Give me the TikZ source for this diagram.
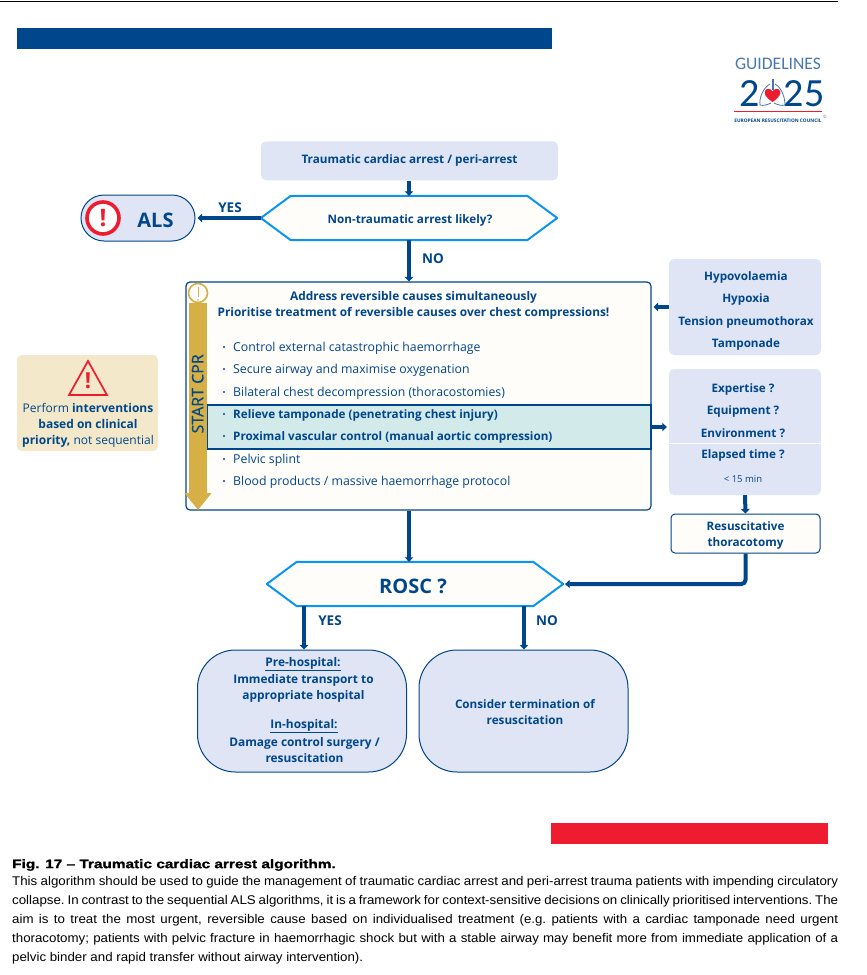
\documentclass[tikz,border=0pt]{standalone}
\usepackage{fontspec}
\setmainfont{Open Sans}
\newfontfamily\capfont[FakeStretch=1.055]{Liberation Sans}
\newfontfamily\capbold[FakeStretch=1.25,FakeBold=1.2]{Liberation Sans}
\newfontfamily\logofont{Carlito}
\newfontfamily\cprfont[FakeBold=0.5]{Open Sans}
\usetikzlibrary{arrows.meta,calc}
\definecolor{ercblue}{HTML}{00468C}
\definecolor{lightbox}{HTML}{DFE5F4}
\definecolor{cyanedge}{HTML}{0A96F0}
\definecolor{offwhite}{HTML}{FFFDF9}
\definecolor{tealband}{HTML}{D2EAEA}
\definecolor{goldarrow}{HTML}{D7B045}
\definecolor{beige}{HTML}{F3E8C9}
\definecolor{ercred}{HTML}{EE1C2E}
\definecolor{logoblue}{HTML}{4A78AE}
\tikzset{
  arr/.style={draw=ercblue,line width=4pt,-{Triangle[width=8.5pt,length=4.5pt]}},
  txt/.style={inner sep=0pt,text=ercblue,font=\fontsize{12.3}{16}\selectfont,align=center,yshift=-1.3pt},
  btxt/.style={txt,font=\fontsize{11.7}{16}\selectfont\bfseries},
  bwide/.style={txt,font=\fontsize{11.9}{16}\selectfont\bfseries},
  lbl/.style={inner sep=0pt,text=ercblue,font=\fontsize{13.5}{16}\selectfont\bfseries,yshift=-1pt},
  bigt/.style={lbl,font=\fontsize{20}{22}\selectfont\bfseries},
  item/.style={txt,anchor=west},
  bul/.style={circle,fill=ercblue,inner sep=0pt,minimum size=2.4pt},
  lightrect/.style={fill=lightbox,rounded corners=5pt,inner sep=0pt},
  hexframe/.style={inner sep=0pt,minimum width=296pt,minimum height=44pt},
  hexline/.style={draw=cyanedge,line width=2pt,fill=offwhite,line join=round},
  endbox/.style={fill=lightbox,draw=ercblue,line width=1pt,rounded corners=38pt,minimum width=209pt,minimum height=122pt,inner sep=0pt},
}
\newcommand{\hexpath}[1]{%
  \path[hexline] (#1.west) -- ([xshift=30pt]#1.north west) -- ([xshift=-30pt]#1.north east) -- (#1.east) -- ([xshift=-30pt]#1.south east) -- ([xshift=30pt]#1.south west) -- cycle;}
\begin{document}
\begin{tikzpicture}[x=1pt,y=-1pt]
\useasboundingbox (0,0) rectangle (867,975);
\fill[white] (0,0) rectangle (867,975);
% page furniture
\draw[black,line width=0.8pt] (0,1) -- (838,1);
\fill[ercblue] (17,28) rectangle (552,49);
\fill[ercred] (551,823) rectangle (828,844);
% logo
\node[inner sep=0pt,text=logoblue,font=\logofont\fontsize{17.6}{20}\selectfont] (logoa) at (778,64) {GUIDELINES};
\node[inner sep=0pt,text=ercblue,font=\logofont\fontsize{40}{40}\selectfont] (logob) at (750,94) {2};
\node[inner sep=0pt,text=ercblue,font=\logofont\fontsize{40}{40}\selectfont] (logoc) at (804,94) {25};
\draw[logoblue,line width=0.6pt] (771.8,79) -- (771.8,90) (773.2,79) -- (773.2,90);
\draw[logoblue,line width=0.8pt] (770,84) .. controls (763,88) and (759,98) .. (760,105) .. controls (763,106) and (767,105) .. (771,103);
\draw[logoblue,line width=0.8pt] (775,84) .. controls (782,88) and (785,98) .. (785,105) .. controls (782,106) and (778,105) .. (774,103);
\fill[ercred] (772.5,102) .. controls (765,97) and (764,93.5) .. (765,91) .. controls (766,88) and (771,88) .. (772.5,91.5) .. controls (774,88) and (779,88) .. (780,91) .. controls (781,93.5) and (780,97) .. (772.5,102) -- cycle;
\draw[ercred,line width=1pt] (734,111) -- (822,111);
\node[inner sep=0pt,text=ercblue,font=\fontsize{4.8}{6}\selectfont\bfseries] (logod) at (778,121) {EUROPEAN RESUSCITATION COUNCIL};
\node[inner sep=0pt,text=logoblue,font=\fontsize{4.5}{6}\selectfont] (logoe) at (825,117) {©};
% start
\node[lightrect,minimum width=297pt,minimum height=39pt,btxt] (start) at (409.5,159.5) {Traumatic cardiac arrest / peri-arrest};
\node[hexframe] (hex) at (409,218) {};
\hexpath{hex}
\node[btxt] (hextxt) at (410,219) {Non-traumatic arrest likely?};
\draw[arr] (start.south -| hex.north) -- (hex.north);
% ALS
\node[fill=lightbox,draw=ercblue,line width=1pt,rounded corners=23pt,minimum width=114pt,minimum height=46pt,inner sep=0pt] (als) at (138,218) {};
\node[circle,draw=ercred,line width=3.6pt,fill=white,minimum size=32pt,inner sep=0pt,text=ercred,font=\fontsize{24}{24}\selectfont\bfseries] (alsicon) at (103,218) {!};
\node[bigt] (alstxt) at (155.5,219.5) {ALS};
\draw[arr,shorten >=2pt] (hex.west) -- (als.east);
\node[lbl] (yes1) at (230,207) {YES};
% main box
\node[draw=ercblue,line width=1.2pt,fill=offwhite,rounded corners=4pt,minimum width=465pt,minimum height=228pt,inner sep=0pt] (main) at (418.5,396) {};
\draw[arr] (hex.south) -- (main.north -| hex.south);
\node[lbl] (no1) at (433,258) {NO};
\node[bwide] (maina) at (413.5,296) {Address reversible causes simultaneously};
\node[bwide] (mainb) at (413.5,312) {Prioritise treatment of reversible causes over chest compressions!};
\node[draw=ercblue,line width=1.8pt,fill=tealband,minimum width=444pt,minimum height=44pt,inner sep=0pt] (band) at (429,427) {};
\foreach \n/\y/\t in {i1/347/{Control external catastrophic haemorrhage},i2/369/{Secure airway and maximise oxygenation},i3/392/{Bilateral chest decompression (thoracostomies)},i6/459/{Pelvic splint},i7/481/{Blood products / massive haemorrhage protocol}}{
  \node[item] (\n) at (233,\y) {\t};
  \node[bul] (b\n) at (224,\y) {};
}
\foreach \n/\y/\t in {i4/414/{Relieve tamponade (penetrating chest injury)},i5/436/{Proximal vascular control (manual aortic compression)}}{
  \node[item,font=\fontsize{11.7}{16}\selectfont\bfseries] (\n) at (233,\y) {\t};
  \node[bul] (b\n) at (224,\y) {};
}
% start CPR arrow
\node[circle,draw=goldarrow,line width=1.6pt,fill=offwhite,minimum size=19pt,inner sep=0pt] (cpr) at (198,293) {};
\coordinate (cprend) at (198,510);
\draw[goldarrow,line width=18pt,-{Triangle[width=26pt,length=17pt]}] (cpr.south) -- (cprend);
\draw[goldarrow,line width=1pt] (198,287) -- (198,297);
\fill[goldarrow] (198,300) circle (0.8pt);
\node[txt,rotate=90,font=\cprfont\fontsize{16}{16}\selectfont,yshift=1.3pt] (cprtxt) at (199,392.5) {START CPR};
% causes
\node[lightrect,minimum width=152pt,minimum height=96pt] (causes) at (745,307) {};
\foreach \n/\y/\t in {c1/276/Hypovolaemia,c2/298/Hypoxia,c3/321/Tension pneumothorax,c4/343/Tamponade}{
  \node[btxt] (\n) at (746,\y) {\t};
}
\draw[arr,shorten >=2pt] (causes.west) -- (main.east |- causes.west);
% questions
\node[lightrect,minimum width=152pt,minimum height=126pt] (quest) at (745,432) {};
\draw[white,line width=0.8pt] (quest.west |- 0,443) -- (quest.east |- 0,443);
\foreach \n/\y/\t in {q1/388/Expertise ?,q2/410/Equipment ?,q3/432/Environment ?,q4/454/Elapsed time ?}{
  \node[btxt] (\n) at (743,\y) {\t};
}
\node[txt,font=\fontsize{9.5}{12}\selectfont] (q5) at (743,478) {< 15 min};
\draw[arr,shorten >=2pt] (band.east) -- (quest.west |- band.east);
% thoracotomy
\node[draw=ercblue,line width=1pt,fill=offwhite,rounded corners=4pt,minimum width=149pt,minimum height=39pt,inner sep=0pt] (thor) at (745.5,533.5) {};
\node[btxt] (thortxt) at (745.5,534) {Resuscitative\\thoracotomy};
\draw[arr] (quest.south) -- (thor.north);
% ROSC
\node[hexframe] (rosc) at (415,584) {};
\hexpath{rosc}
\node[bigt] (rosctxt) at (413,585) {ROSC ?};
\draw[arr] (main.south -| 409,0) -- (rosc.north -| 409,0);
\draw[draw=ercblue,line width=4pt,rounded corners=4pt,-{Triangle[width=8.5pt,length=4.5pt]},shorten >=2pt] (thor.south) |- (rosc.east);
% outcomes
\node[endbox] (pre) at (302,711) {};
\node[endbox] (term) at (523.5,711) {};
\draw[arr] (rosc.south -| 304,0) -- (pre.north -| 304,0);
\draw[arr] (rosc.south -| 524,0) -- (term.north -| 524,0);
\node[lbl] (yes2) at (330,620) {YES};
\node[lbl] (no2) at (547,620) {NO};
\node[bwide] (p1) at (303,663) {\underline{Pre-hospital:}};
\node[bwide] (p2) at (303.5,687) {Immediate transport to\\appropriate hospital};
\node[bwide] (p3) at (304,725) {\underline{In-hospital:}};
\node[bwide] (p4) at (304.5,749) {Damage control surgery /\\resuscitation};
\node[btxt] (t1) at (525,711) {Consider termination of\\resuscitation};
% note
\node[fill=beige,rounded corners=5pt,minimum width=141pt,minimum height=96pt,inner sep=0pt] (note) at (87.5,403) {};
\draw[ercred,line width=1.7pt,line join=miter] (88,361) -- (107,395) -- (69,395) -- cycle;
\node[inner sep=0pt,text=ercred,font=\fontsize{22}{22}\selectfont\bfseries] (noteicon) at (88,381) {!};
\node[txt,font=\fontsize{12}{16.3}\selectfont] (notetxt) at (88,424) {Perform \textbf{interventions}\\\textbf{based on clinical}\\\textbf{priority,} not sequential};
% caption
\node[inner sep=0pt,anchor=west,font=\capbold\fontsize{12.3}{14}\selectfont\bfseries] (captitle) at (12,865) {Fig. 17 – Traumatic cardiac arrest algorithm.};
\node[inner sep=0pt,anchor=north west,align=left,font=\capfont\fontsize{12.6}{19}\selectfont\frenchspacing] (capbody) at (12,876) {%
\makebox[826pt][s]{This algorithm should be used to guide the management of traumatic cardiac arrest and peri-arrest trauma patients with impending circulatory}\\
\makebox[826pt][s]{collapse. In contrast to the sequential ALS algorithms, it is a framework for context-sensitive decisions on clinically prioritised interventions. The}\\
\makebox[826pt][s]{aim is to treat the most urgent, reversible cause based on individualised treatment (e.g. patients with a cardiac tamponade need urgent}\\
\makebox[826pt][s]{thoracotomy; patients with pelvic fracture in haemorrhagic shock but with a stable airway may benefit more from immediate application of a}\\
pelvic binder and rapid transfer without airway intervention).};
\end{tikzpicture}
\end{document}
